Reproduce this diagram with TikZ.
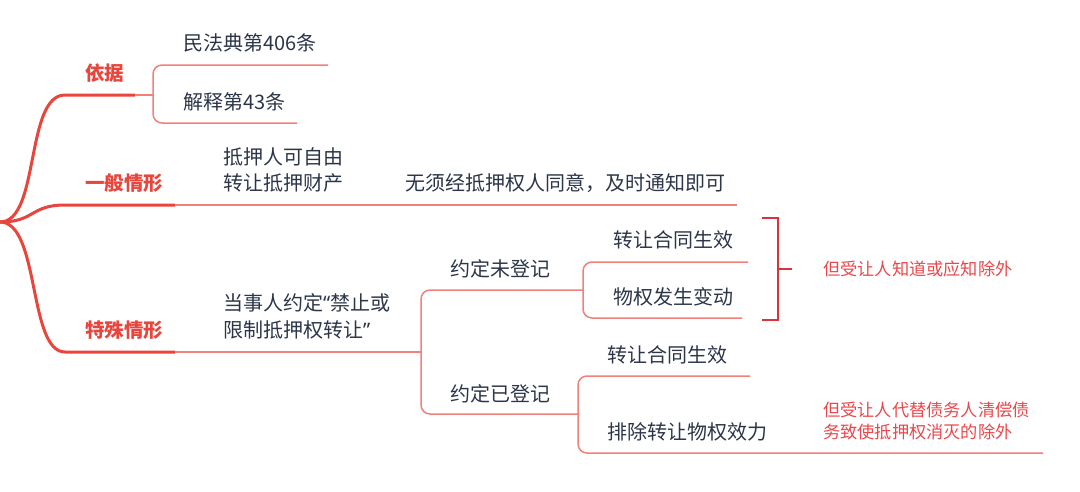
\documentclass[tikz,border=0pt]{standalone}
\usepackage{fontspec}
\setmainfont{Noto Sans CJK SC}
\newfontfamily\quotefont{Noto Sans}
\usepackage{tikz}
\usetikzlibrary{positioning}
\definecolor{branchred}{HTML}{E8453C}
\definecolor{twigred}{HTML}{F2807A}
\definecolor{inkblue}{HTML}{2C3648}
\definecolor{notered}{HTML}{E9474B}
\definecolor{bracketred}{HTML}{D8343C}
\newcommand{\openq}{{\quotefont “}}
\newcommand{\closeq}{{\quotefont ”}}

\begin{document}
\begin{tikzpicture}[x=1pt, y=-1pt,
  trunk/.style={draw=branchred, line width=3pt},
  twig/.style={draw=twigred, line width=1.5pt, rounded corners=9pt},
  head/.style={anchor=west, inner sep=0pt, text=branchred, font=\bfseries\fontsize{19.5}{24}\selectfont},
  leaf/.style={anchor=west, inner sep=0pt, text=inkblue, align=left, font=\fontsize{20}{26.5}\selectfont},
  note/.style={anchor=west, inner sep=0pt, text=notered, align=left, font=\fontsize{17.2}{22}\selectfont}]
\useasboundingbox (0,0) rectangle (1080,491);

\begin{scope}[every node/.style={head}]
  \node (basis) at (85,73) {依据};
  \node (general) at (85,183) {一般情形};
  \node (special) at (85,330) {特殊情形};
\end{scope}

\begin{scope}[every node/.style={leaf}]
  \node (civil) at (183,43) {民法典第406条};
  \node (interp) at (183,102) {解释第43条};
  \node (free) at (223,170) {抵押人可自由\\转让抵押财产};
  \node (notice) at (405,183) {无须经抵押权人同意，及时通知即可};
  \node (agree) at (223,316.5) {当事人约定\openq 禁止或\\限制抵押权转让\closeq};
  \node (unreg) at (450,269) {约定未登记};
  \node (contract) at (613,240) {转让合同生效};
  \node (change) at (613,297) {物权发生变动};
  \node (reg) at (450,394) {约定已登记};
  \node (contractb) at (607,355) {转让合同生效};
  \node (exclude) at (607,432) {排除转让物权效力};
\end{scope}

\begin{scope}[every node/.style={note}]
  \node (knownote) at (823,269) {但受让人知道或应知除外};
  \node (paynote) at (823,421) {但受让人代替债务人清偿债\\务致使抵押权消灭的除外};
\end{scope}

\coordinate (root) at (0,222);
\coordinate (basisroot) at (65,95);
\coordinate (basisend) at (135,95);
\coordinate (generalroot) at (65,205);
\coordinate (generalend) at (175,205);
\coordinate (specialroot) at (65,352);
\coordinate (specialend) at (175,352);

% main branches
\draw[trunk] (root) .. controls (40,222) and (25,95) .. (basisroot) -- (basisend);
\draw[trunk] (root) .. controls (35,222) and (30,205) .. (generalroot) -- (generalend);
\draw[trunk] (root) .. controls (40,222) and (28,352) .. (specialroot) -- (specialend);

% basis
\draw[twig] (basisend) -- (153,95);
\draw[twig] (328,65) -- (153,65) -- (153,123) -- (297,123);

% general
\draw[twig] (generalend) -- (737,205);

% special
\draw[twig] (specialend) -- (421,352);
\draw[twig] (583,290) -- (421,290) -- (421,414) -- (578,414);
\draw[twig] (748,262) -- (583,262) -- (583,318) -- (742,318);
\draw[twig] (750,376) -- (578,376) -- (578,453) -- (1043,453);

% bracket for both effects
\draw[bracketred, line width=2.8pt] (762,218) -- (778,218) -- (778,320) -- (762,320);
\draw[bracketred, line width=2.8pt] (778,269) -- (792,269);

\end{tikzpicture}
\end{document}
